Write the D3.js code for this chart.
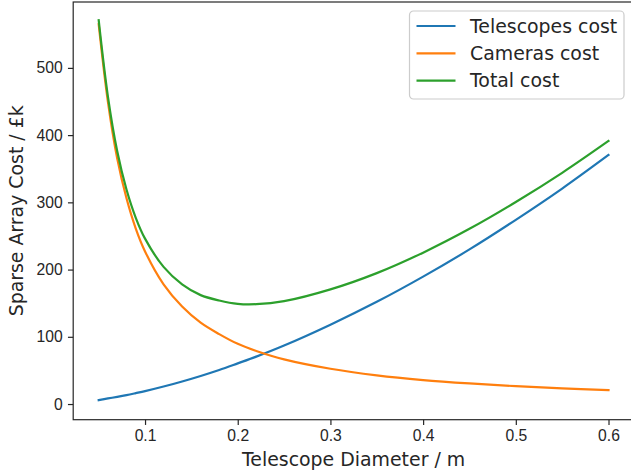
<!DOCTYPE html>
<html>
<head>
<meta charset="utf-8">
<script src="https://cdn.jsdelivr.net/npm/d3@7"></script>
<style>
  body { margin: 0; background: #fff; }
  svg { display: block; font-family: "DejaVu Sans", sans-serif; }
</style>
</head>
<body>
<div id="chart"></div>
<script>
// values
const diameters = [0.05, 0.06, 0.07, 0.08, 0.09, 0.10, 0.12, 0.14, 0.16, 0.18, 0.20, 0.22, 0.25, 0.30, 0.35, 0.40, 0.45, 0.50, 0.55, 0.60];
const telescopesCost = [5.8, 8.3, 10.7, 13.3, 16.2, 19.2, 26.0, 33.6, 41.8, 50.7, 60.5, 70.5, 87.0, 118, 152, 189.5, 230, 274, 320.5, 370.5];
const camerasCost = [565, 449, 365, 306, 261, 227, 178, 145, 121, 104, 89.5, 79, 66.5, 52.5, 42.7, 35.7, 30.6, 26.5, 23.4, 20.8];
const totalCost = [571, 457, 376, 319, 277, 246, 204, 178, 162, 154, 149, 148.5, 153, 170.5, 194.7, 225.2, 260.6, 300.5, 343.9, 391.3];

const seriesNames = ["Telescopes cost", "Cameras cost", "Total cost"];
const colors = ["#1f77b4", "#ff7f0e", "#2ca02c"];
const xTicks = [0.1, 0.2, 0.3, 0.4, 0.5, 0.6];
const yTicks = [0, 100, 200, 300, 400, 500];

const W = 631, H = 475;
const margin = { top: 2, right: -3, bottom: 55.3, left: 73.2 };
const width = W - margin.left - margin.right;
const height = H - margin.top - margin.bottom;

const x = d3.scaleLinear().domain([0.0225, 0.6275]).range([0, width]);
const y = d3.scaleLinear().domain([-23.3, 598]).range([height, 0]);

const svg = d3.select("#chart")
  .append("svg")
  .attr("width", W)
  .attr("height", H);

const g = svg.append("g")
  .attr("transform", `translate(${margin.left},${margin.top})`);

const ink = "#262626";

// axes
const xAxis = g.append("g")
  .attr("transform", `translate(0,${height})`)
  .call(d3.axisBottom(x).tickValues(xTicks).tickFormat(d3.format(".1f")).tickSize(5.25).tickPadding(5));

const yAxis = g.append("g")
  .call(d3.axisLeft(y).tickValues(yTicks).tickFormat(d3.format("d")).tickSize(5.25).tickPadding(5.25));

[xAxis, yAxis].forEach(a => {
  a.select(".domain").remove();
  a.selectAll(".tick line").attr("stroke", ink).attr("stroke-width", 1.2);
  a.selectAll(".tick text").attr("fill", ink).style("font-size", "15.7px");
});

const series = [telescopesCost, camerasCost, totalCost];

const line = d3.line()
  .x((d, i) => x(diameters[i]))
  .y(d => y(d))
  .curve(d3.curveCatmullRom.alpha(0.5));

series.forEach((s, k) => {
  g.append("path")
    .datum(s)
    .attr("fill", "none")
    .attr("stroke", colors[k])
    .attr("stroke-width", 2.2)
    .attr("stroke-linecap", "square")
    .attr("d", line);
});

// spines
g.append("rect")
  .attr("width", width)
  .attr("height", height)
  .attr("fill", "none")
  .attr("stroke", ink)
  .attr("stroke-width", 1.2);

// axis labels
svg.append("text")
  .attr("x", margin.left + x(0.325))
  .attr("y", 466)
  .attr("text-anchor", "middle")
  .attr("fill", ink)
  .style("font-size", "18.9px")
  .text("Telescope Diameter / m");

svg.append("text")
  .attr("transform", `translate(22.5,${margin.top + height / 2}) rotate(-90)`)
  .attr("text-anchor", "middle")
  .attr("fill", ink)
  .style("font-size", "18.9px")
  .text("Sparse Array Cost / £k");

// legend
const legend = svg.append("g").attr("transform", "translate(409.5,11)");
legend.append("rect")
  .attr("width", 214.5)
  .attr("height", 88)
  .attr("rx", 4)
  .attr("fill", "#fff")
  .attr("fill-opacity", 0.8)
  .attr("stroke", "#cccccc")
  .attr("stroke-width", 1.2);

seriesNames.forEach((name, k) => {
  const ly = 15 + k * 27.3;
  legend.append("line")
    .attr("x1", 7).attr("x2", 46)
    .attr("y1", ly).attr("y2", ly)
    .attr("stroke", colors[k])
    .attr("stroke-width", 2.2);
  legend.append("text")
    .attr("x", 60.5)
    .attr("y", ly + 6.8)
    .attr("fill", ink)
    .style("font-size", "18.9px")
    .text(name);
});
</script>
</body>
</html>
